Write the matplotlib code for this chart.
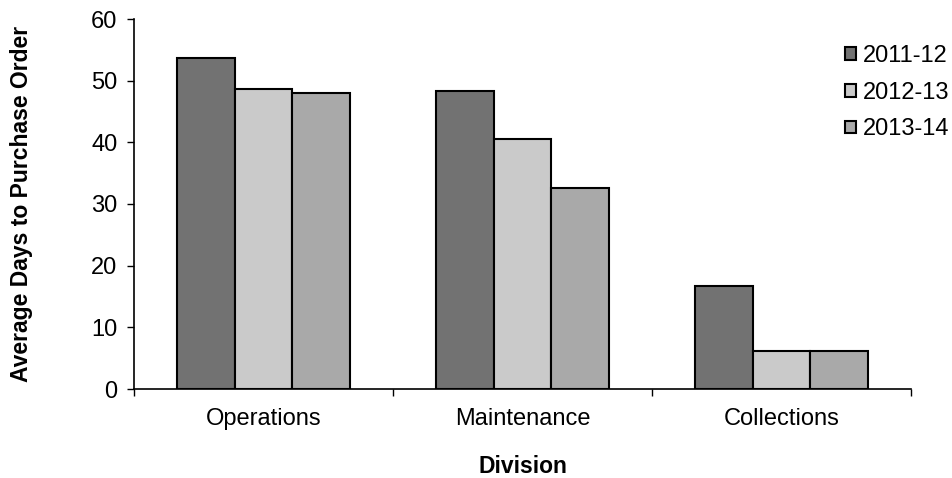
import numpy as np
import matplotlib.pyplot as plt

plt.rcParams['font.family'] = ['Liberation Sans', 'DejaVu Sans']

divisions = ['Operations', 'Maintenance', 'Collections']
years = ['2011-12', '2012-13', '2013-14']
days_2011 = [53.7, 48.3, 16.7]
days_2012 = [48.7, 40.5, 6.2]
days_2013 = [48.0, 32.6, 6.1]
yticks = [0, 10, 20, 30, 40, 50, 60]

series = [days_2011, days_2012, days_2013]
colors = ['#727272', '#cacaca', '#a9a9a9']

fig = plt.figure(figsize=(9.53, 4.78), dpi=100)
ax = fig.add_axes([134/953, 1-389/478, (911-134)/953, (389-19)/478])

x = np.arange(len(divisions))
w = 1/4.5
for i, (vals, c, lab) in enumerate(zip(series, colors, years)):
    ax.bar(x + (i-1)*w, vals, w, color=c, edgecolor='black', linewidth=1.5,
           label=lab, zorder=2)

ax.set_xlim(-0.5, 2.5)
ax.set_ylim(0, 60)
ax.set_yticks(yticks)
ax.set_xticks(x)
ax.set_xticklabels(divisions, fontsize=17)
ax.set_xticks([-0.5, 0.5, 1.5, 2.5], minor=True)
ax.tick_params(axis='x', which='major', length=0, pad=14)
ax.tick_params(axis='x', which='minor', length=5, width=1)
ax.tick_params(axis='y', labelsize=17, length=5, width=1, pad=7)
for s in ['top', 'right']:
    ax.spines[s].set_visible(False)
ax.spines['left'].set_linewidth(1.2)
ax.spines['bottom'].set_linewidth(1.2)

ax.set_ylabel('Average Days to Purchase Order', fontsize=16.5, fontweight='bold')
ax.yaxis.set_label_coords((33-134)/777, 0.5)
ax.set_xlabel('Division', fontsize=16.5, fontweight='bold')
ax.xaxis.set_label_coords(0.5, (389-455)/370)

leg = ax.legend(loc='upper left', bbox_to_anchor=(845/953, 1-45/478),
                bbox_transform=fig.transFigure, frameon=False, fontsize=17,
                handlelength=0.45, handleheight=0.45, handletextpad=0.3,
                labelspacing=0.62, borderpad=0, borderaxespad=0)

fig.savefig('out.png', dpi=100)
